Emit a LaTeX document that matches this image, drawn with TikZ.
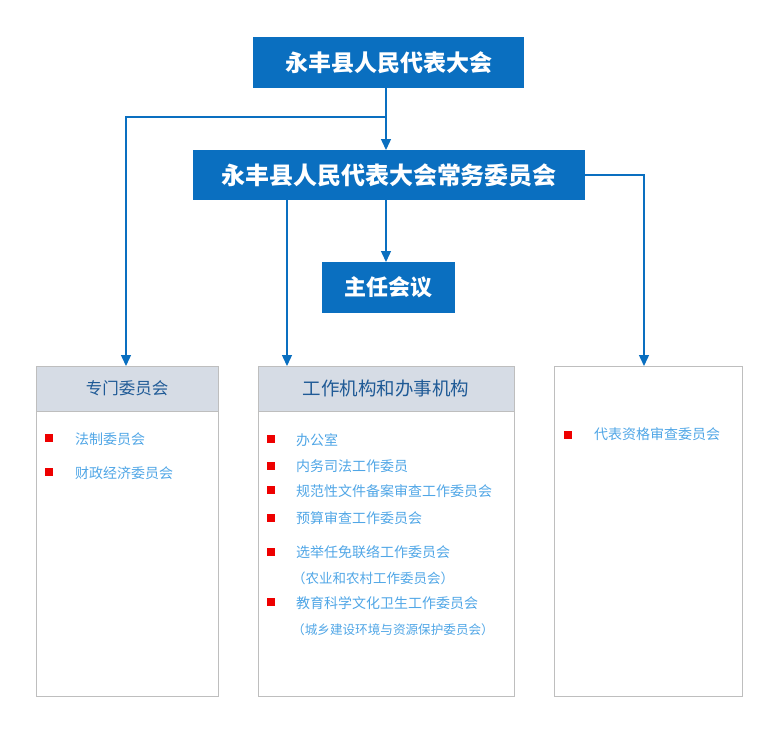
\documentclass[tikz,border=0pt]{standalone}
\usepackage{fontspec}
\newfontfamily\cjk{Noto Sans CJK SC}
\usetikzlibrary{arrows.meta,calc}
\definecolor{boxblue}{RGB}{10,111,192}
\definecolor{hdrfill}{RGB}{214,220,229}
\definecolor{hdrtext}{RGB}{31,90,150}
\definecolor{itemtext}{RGB}{80,166,230}
\definecolor{panelline}{RGB}{190,190,190}
\definecolor{sq}{RGB}{238,0,0}
\tikzset{
  topbox/.style={fill=boxblue, text=white, inner sep=0pt, font=\cjk\bfseries},
  conn/.style={draw=boxblue, line width=1.4pt, -{Triangle[length=11pt,width=10pt]}},
  panel/.style={draw=panelline, line width=0.8pt, inner sep=0pt},
  hdr/.style={draw=panelline, line width=0.8pt, fill=hdrfill, text=hdrtext, inner sep=0pt},
  item/.style={anchor=west, text=itemtext, inner sep=0pt, font=\cjk\fontsize{14}{16}\selectfont},
  bullet/.style={fill=sq, minimum size=8.5pt, inner sep=0pt},
}
\begin{document}
\begin{tikzpicture}[x=1pt,y=-1pt]
\useasboundingbox (0,0) rectangle (780,734);
% top boxes
\node[topbox, minimum width=271pt, minimum height=51pt, font=\cjk\bfseries\fontsize{23}{26}\selectfont] (npc) at (388.5,62.5) {永丰县人民代表大会};
\node[topbox, minimum width=392pt, minimum height=50pt, font=\cjk\bfseries\fontsize{24}{27}\selectfont] (sc) at (389,175) {永丰县人民代表大会常务委员会};
\node[topbox, minimum width=133pt, minimum height=51pt, font=\cjk\bfseries\fontsize{22}{25}\selectfont] (dir) at (388.5,287.5) {主任会议};
% panels
\node[panel, minimum width=182pt, minimum height=330pt] (p1) at (127,531) {};
\node[panel, minimum width=256pt, minimum height=330pt] (p2) at (386,531) {};
\node[panel, minimum width=188pt, minimum height=330pt] (p3) at (648,531) {};
\node[hdr, minimum width=182pt, minimum height=45pt, font=\cjk\fontsize{16.5}{19}\selectfont] (h1) at (127,388.5) {专门委员会};
\node[hdr, minimum width=256pt, minimum height=45pt, font=\cjk\fontsize{18.5}{21}\selectfont] (h2) at (386,388.5) {工作机构和办事机构};
% connectors
\coordinate (s1) at (386,88);
\coordinate (e1) at (386,150);
\coordinate (j1) at (386,117);
\coordinate (a1) at (126,366);
\coordinate (m1) at (287,200);
\coordinate (a2) at (287,366);
\coordinate (s2) at (386,200);
\coordinate (e2) at (386,262);
\coordinate (a3) at (644,366);
\draw[conn] (s1) -- (e1);
\draw[conn] (j1) -| (a1);
\draw[conn] (m1) -- (a2);
\draw[conn] (s2) -- (e2);
\draw[conn] (sc.east) -| (a3);
% left items
\node[bullet] (b11) at (49,438) {};
\node[item] (t11) at (75,439) {法制委员会};
\node[bullet] (b12) at (49,472) {};
\node[item] (t12) at (75,473) {财政经济委员会};
% middle items
\node[bullet] (b21) at (271,439) {};
\node[item] (t21) at (296,440) {办公室};
\node[bullet] (b22) at (271,466) {};
\node[item] (t22) at (296,466) {内务司法工作委员};
\node[bullet] (b23) at (271,490) {};
\node[item] (t23) at (296,491) {规范性文件备案审查工作委员会};
\node[bullet] (b24) at (271,518) {};
\node[item] (t24) at (296,518) {预算审查工作委员会};
\node[bullet] (b25) at (271,552) {};
\node[item] (t25) at (296,552) {选举任免联络工作委员会};
\node[item, font=\cjk\fontsize{13.5}{16}\selectfont] (t26) at (292,578) {（农业和农村工作委员会）};
\node[bullet] (b27) at (271,602) {};
\node[item] (t27) at (296,603) {教育科学文化卫生工作委员会};
\node[item, font=\cjk\fontsize{12.6}{15}\selectfont] (t28) at (292,630) {（城乡建设环境与资源保护委员会）};
% right items
\node[bullet] (b31) at (568,435) {};
\node[item] (t31) at (594,434) {代表资格审查委员会};
\end{tikzpicture}
\end{document}
